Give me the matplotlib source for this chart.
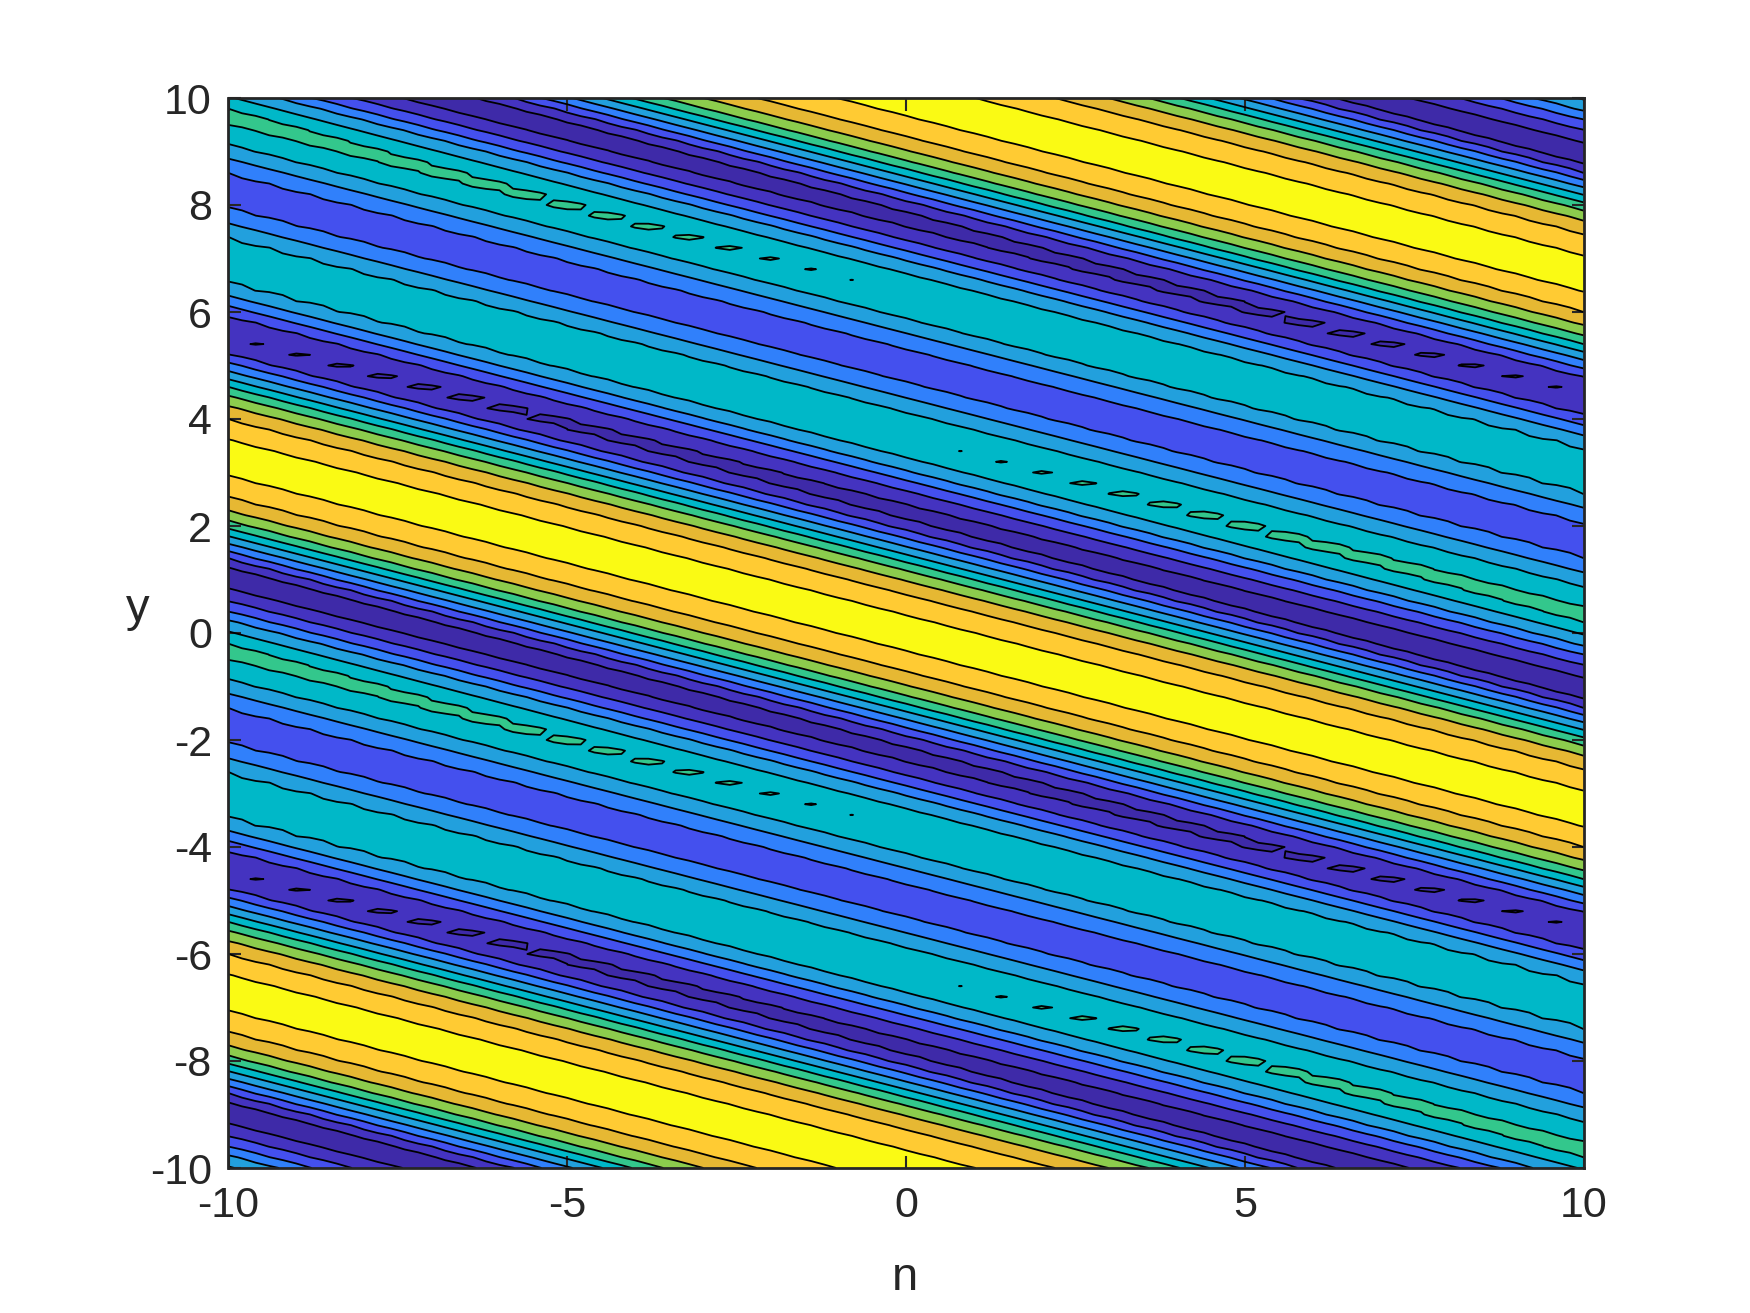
import numpy as np
import matplotlib
matplotlib.use('Agg')
import matplotlib.pyplot as plt

# band edges read along the left edge of the plot (n=-10): y position, band level
edge_y = [-0.48, -0.40, -0.3333, -0.27, -0.20, 0.03, 0.25, 0.40, 0.59, 0.84, 0.98, 1.05, 1.12, 1.22, 1.40, 1.52,
          1.67, 1.81, 1.95, 2.09, 2.28, 2.53, 2.93, 3.28, 3.63, 4.00, 4.25, 4.44,
          4.60, 4.74, 4.89, 5.06, 5.206, 5.44, 5.533, 5.63, 5.935, 6.11, 6.30, 6.514, 7.00, 7.405,
          7.654, 7.93, 8.27, 8.60, 8.869, 9.118, 9.52]
edge_level = [6, 6.32, 6.40, 6.32, 6, 5, 4, 3, 2, 1, 0.3, 0.15, 0.3, 1, 2, 3,
              4, 5, 6, 7, 8, 9, 10, 10.6, 10, 9, 8, 7,
              6, 5, 4, 3, 2, 1.08, 0.98, 1.08, 2, 3, 4, 5, 5.55, 5,
              4, 3, 2.4, 3, 4, 5, 6]
levels = [1, 2, 3, 4, 5, 6, 7, 8, 9, 10]
band_colors = ['#3e2aa8', '#4433c0', '#4450ee', '#3080fb', '#22a0dd', '#00b8c8',
               '#33c78c', '#8ccc4d', '#e6b833', '#ffcb33', '#fafa14']
ticks_n = [-10, -5, 0, 5, 10]
ticks_y = [-10, -8, -6, -4, -2, 0, 2, 4, 6, 8, 10]

dark = '#262626'
plt.rcParams['font.family'] = ['Liberation Sans', 'DejaVu Sans']
plt.rcParams['axes.unicode_minus'] = False

n = np.linspace(-10, 10, 101)
y = np.linspace(-10, 10, 101)
N, Y = np.meshgrid(n, y)


def edge_profile(u):
    return np.interp(u, edge_y, edge_level, period=10)


# bands run along y + n/3, profile at n=10 is the n=-10 one turned over
phase = Y + N / 3
Z = edge_profile(phase + 10 / 3) * (10 - N) / 20 + edge_profile(10 / 3 - phase) * (10 + N) / 20

fig = plt.figure(figsize=(17.5, 13.13), dpi=100)
ax = fig.add_axes([228.5 / 1750, 1 - 1168 / 1313, 1355 / 1750, 1070 / 1313])
cf = ax.contourf(N, Y, Z, levels=levels, colors=band_colors[1:-1], extend='both')
cf.cmap.set_under(band_colors[0])
cf.cmap.set_over(band_colors[-1])
cf.changed()
ax.contour(N, Y, Z, levels=levels, colors='k', linewidths=1.3)

ax.set_xlim(-10, 10)
ax.set_ylim(-10, 10)
ax.set_xticks(ticks_n)
ax.set_yticks(ticks_y)
ax.tick_params(direction='in', top=True, right=True, length=9, width=1.5, color=dark,
               labelcolor=dark, labelsize=31, zorder=5)
ax.tick_params(axis='x', pad=13)
ax.tick_params(axis='y', pad=12)
for sp in ax.spines.values():
    sp.set_linewidth(2.0)
    sp.set_color(dark)
    sp.set_zorder(6)

fig.text(905 / 1750, 1 - 1278 / 1313, 'n', fontsize=34, color=dark, ha='center', va='center')
fig.text(138 / 1750, 1 - 609 / 1313, 'y', fontsize=34, color=dark, ha='center', va='center')

plt.savefig('out.png', dpi=100)
